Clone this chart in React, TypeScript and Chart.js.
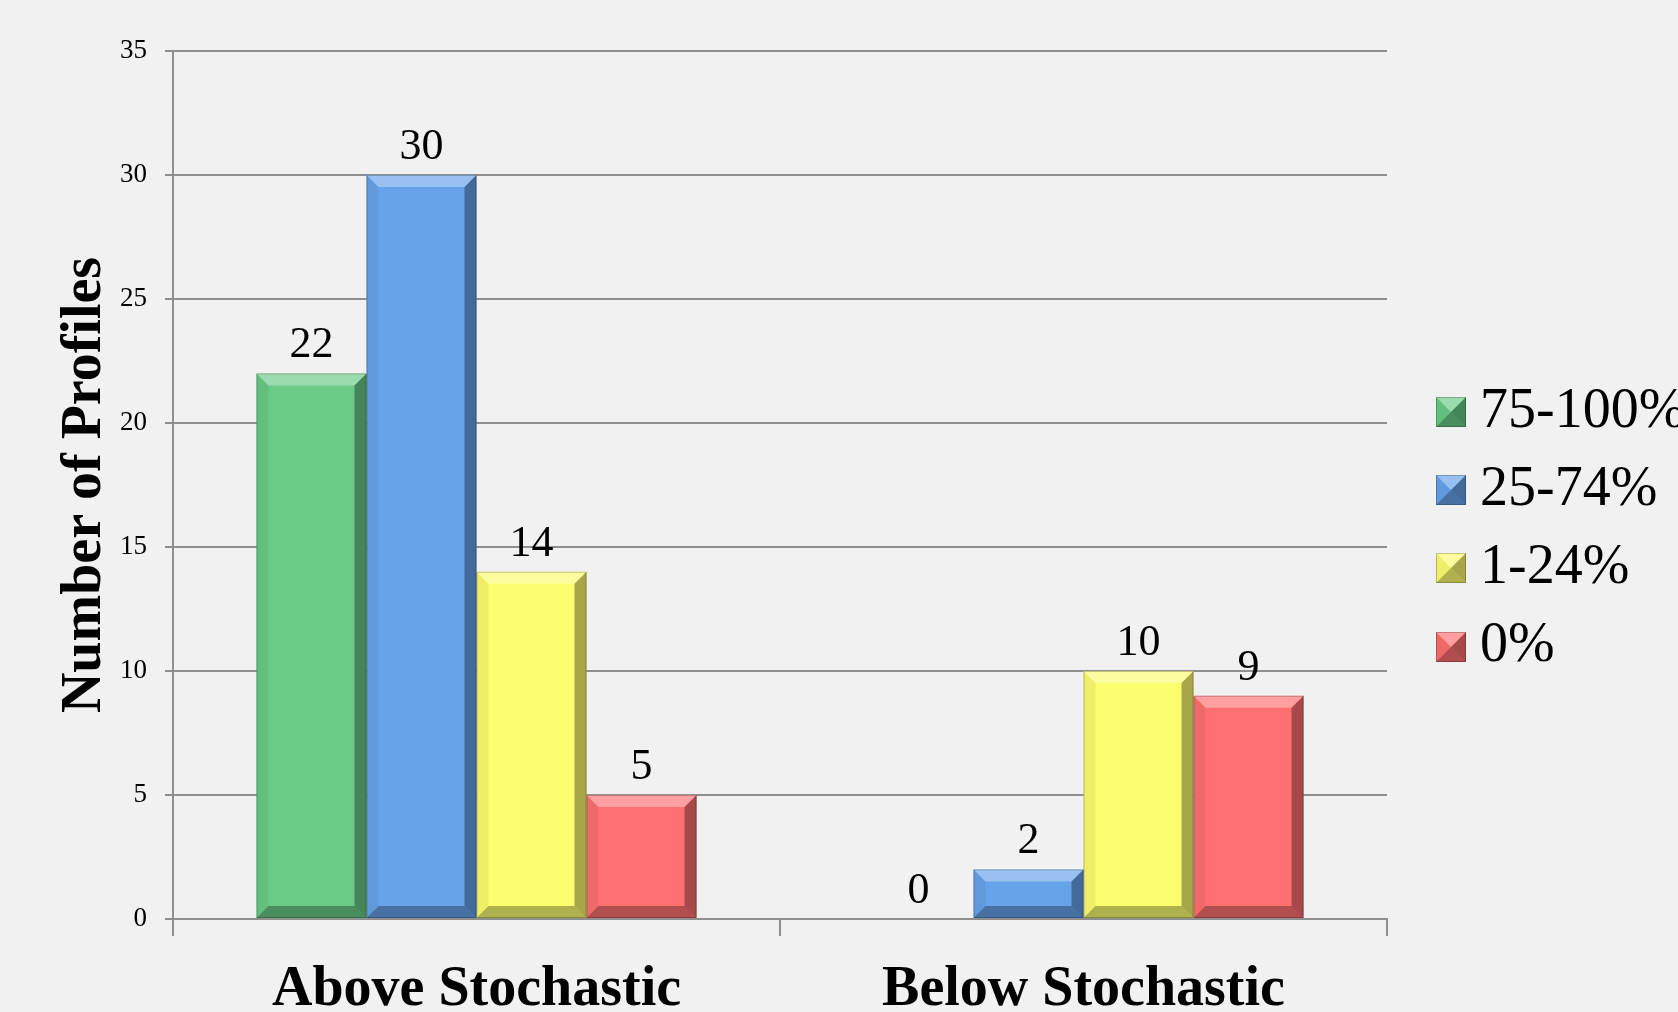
import React, { useEffect, useRef } from 'react';
import { Chart, registerables } from 'chart.js';

Chart.register(...registerables);

const categories = ['Above Stochastic', 'Below Stochastic'];
const seriesNames = ['75-100%', '25-74%', '1-24%', '0%'];
const values75to100 = [22, 0];
const values25to74 = [30, 2];
const values1to24 = [14, 10];
const values0 = [5, 9];
const seriesColors = ['#6acb86', '#66a3ea', '#fdfd70', '#ff7070'];
const yMin = 0;
const yMax = 35;
const yStep = 5;
const yTitle = 'Number of Profiles';

const SERIF = '"Liberation Serif", "Times New Roman", serif';
const GRID = '#8f8f8f';
const BG = '#f1f1f1';

function poly(ctx: CanvasRenderingContext2D, pts: number[][], color: string) {
  ctx.beginPath();
  ctx.moveTo(pts[0][0], pts[0][1]);
  for (let i = 1; i < pts.length; i++) ctx.lineTo(pts[i][0], pts[i][1]);
  ctx.closePath();
  ctx.fillStyle = color;
  ctx.fill();
}

function bevel(ctx: CanvasRenderingContext2D, l: number, t: number, r: number, b: number, dMax: number) {
  const w = r - l;
  const h = b - t;
  if (h < 1 || w < 1) return;
  const d = Math.min(dMax, h / 2, w / 2);
  poly(ctx, [[l, t], [r, t], [r - d, t + d], [l + d, t + d]], 'rgba(255,255,255,0.33)');
  poly(ctx, [[l, b], [r, b], [r - d, b - d], [l + d, b - d]], 'rgba(0,0,0,0.30)');
  poly(ctx, [[l, t], [l + d, t + d], [l + d, b - d], [l, b]], 'rgba(0,0,0,0.06)');
  poly(ctx, [[r, t], [r - d, t + d], [r - d, b - d], [r, b]], 'rgba(0,0,0,0.34)');
  ctx.strokeStyle = 'rgba(0,0,0,0.22)';
  ctx.lineWidth = 1;
  ctx.strokeRect(l + 0.5, t + 0.5, w - 1, h - 1);
}

const backgroundPlugin = {
  id: 'bgFill',
  beforeDraw(chart: any) {
    const { ctx, width, height } = chart;
    ctx.save();
    ctx.fillStyle = BG;
    ctx.fillRect(0, 0, width, height);
    ctx.restore();
  },
};

const bevelAndLabelPlugin = {
  id: 'bevelLabels',
  afterDatasetsDraw(chart: any) {
    const ctx: CanvasRenderingContext2D = chart.ctx;
    ctx.save();
    chart.data.datasets.forEach((ds: any, di: number) => {
      const meta = chart.getDatasetMeta(di);
      meta.data.forEach((el: any) => {
        const { x, y, base, width } = el.getProps(['x', 'y', 'base', 'width'], true);
        const l = x - width / 2;
        const r = x + width / 2;
        const t = Math.min(y, base);
        const b = Math.max(y, base);
        bevel(ctx, l, t, r, b, 12);
      });
    });
    ctx.fillStyle = '#000';
    ctx.font = `44px ${SERIF}`;
    ctx.textAlign = 'center';
    ctx.textBaseline = 'alphabetic';
    chart.data.datasets.forEach((ds: any, di: number) => {
      const meta = chart.getDatasetMeta(di);
      meta.data.forEach((el: any, i: number) => {
        const { x, y } = el.getProps(['x', 'y'], true);
        ctx.fillText(String(ds.data[i]), x, y - 16);
      });
    });
    ctx.restore();
  },
};

const legendPlugin = {
  id: 'customLegend',
  afterDraw(chart: any) {
    const ctx: CanvasRenderingContext2D = chart.ctx;
    ctx.save();
    const boxX = 1436;
    const box = 30;
    const firstY = 412;
    const gap = 78.2;
    ctx.font = `56px ${SERIF}`;
    ctx.textAlign = 'left';
    ctx.textBaseline = 'middle';
    chart.data.datasets.forEach((ds: any, i: number) => {
      const cy = firstY + i * gap;
      const t = Math.round(cy - box / 2);
      ctx.fillStyle = ds.backgroundColor;
      ctx.fillRect(boxX, t, box, box);
      bevel(ctx, boxX, t, boxX + box, t + box, 15);
      ctx.fillStyle = '#000';
      ctx.fillText(ds.label, 1480, cy);
    });
    ctx.restore();
  },
};

export default function App() {
  const canvasRef = useRef<HTMLCanvasElement | null>(null);

  useEffect(() => {
    const canvas = canvasRef.current;
    if (!canvas) return;
    const seriesValues = [values75to100, values25to74, values1to24, values0];
    const chart = new Chart(canvas, {
      type: 'bar',
      data: {
        labels: categories,
        datasets: seriesNames.map((name, i) => ({
          label: name,
          data: seriesValues[i],
          backgroundColor: seriesColors[i],
          borderWidth: 0,
          categoryPercentage: 0.725,
          barPercentage: 1.0,
        })),
      },
      options: {
        responsive: false,
        animation: false,
        devicePixelRatio: 1,
        layout: { padding: { top: 51, right: 291, bottom: 0, left: 0 } },
        plugins: {
          legend: { display: false },
          tooltip: { enabled: false },
          title: { display: false },
        },
        scales: {
          x: {
            offset: true,
            grid: {
              display: true,
              offset: true,
              drawOnChartArea: false,
              drawTicks: true,
              tickLength: 17,
              color: GRID,
              lineWidth: 2,
            },
            border: { display: true, color: GRID, width: 2 },
            ticks: {
              font: { family: SERIF, size: 56, weight: 'bold' },
              color: '#000',
              padding: 21,
              maxRotation: 0,
              autoSkip: false,
            },
            afterFit: (s: any) => {
              s.height = 93;
            },
          },
          y: {
            min: yMin,
            max: yMax,
            ticks: {
              stepSize: yStep,
              font: { family: SERIF, size: 27 },
              color: '#000',
              padding: 18,
            },
            grid: {
              color: GRID,
              lineWidth: 2,
              tickLength: 8,
              drawTicks: true,
            },
            border: { display: true, color: GRID, width: 2 },
            title: {
              display: true,
              text: yTitle,
              color: '#000',
              font: { family: SERIF, size: 56, weight: 'bold' },
              padding: { top: 52, bottom: 0 },
            },
            afterFit: (s: any) => {
              s.width = 173;
            },
          },
        },
      } as any,
      plugins: [backgroundPlugin, bevelAndLabelPlugin, legendPlugin],
    });
    return () => chart.destroy();
  }, []);

  return (
    <div
      style={{
        position: 'fixed',
        left: 0,
        top: 0,
        width: 1678,
        height: 1012,
        background: BG,
        overflow: 'hidden',
      }}
    >
      <canvas ref={canvasRef} width={1678} height={1012} style={{ display: 'block', width: 1678, height: 1012 }} />
    </div>
  );
}
